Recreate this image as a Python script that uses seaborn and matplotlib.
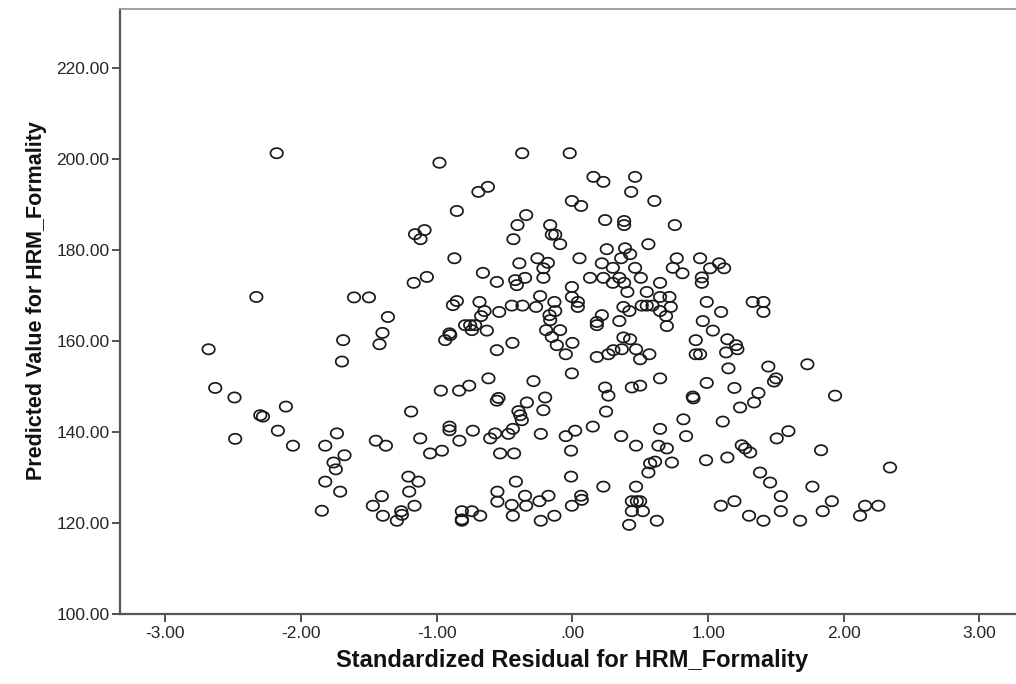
import numpy as np
import matplotlib
matplotlib.use("Agg")
import matplotlib.pyplot as plt
import seaborn as sns
import pandas as pd

# Standardized residuals (x) and predicted values (y) for HRM_Formality
std_residual = [
    -2.18, -1.16, -1.09, -1.12, -1.17, -2.33, -1.61, -1.50, -1.36, -1.40,
    -0.98, -0.37, -0.02, 0.155, 0.228, 0.462, 0.433, -0.693, -0.623, -0.004,
    0.064, 0.604, -0.852, -0.341, -0.405, 0.241, 0.381, 0.381, -0.164, -0.152,
    -0.127, -0.091, -0.435, 0.560, 0.253, 0.388, 0.425, 0.359, -0.870, 0.052,
    -0.258, -0.181, -0.214, -0.391, 0.217, 0.298, 0.462, -1.073, -0.660, -0.557,
    -0.422, -0.410, -0.349, -0.214, 0.130, 0.228, 0.298, 0.346, 0.381, 0.504,
    -0.004, -0.004, 0.040, 0.040, 0.405, 0.548, -0.238, -0.133, -0.881, -0.852,
    -0.685, -0.648, -0.673, -0.540, -0.447, -0.368, -0.268, -0.127, -0.169, -0.164,
    0.217, 0.180, 0.180, 0.346, 0.376, 0.420, 0.511, 0.548, 0.590, -0.791,
    -0.754, -0.717, -0.741, -0.631, -0.906, -0.194, -0.091,
    -0.938, -0.901, -0.152, -0.115, -0.557, -0.442, 0.000, -0.049, 0.180, 0.265,
    0.302, 0.364, 0.376, 0.425, 0.469, 0.499, 0.567, -0.004, -0.619, -0.287,
    -0.970, -0.835, -0.761, -0.545, -0.557, -0.336, -0.201, -0.214, -0.398, -0.385,
    -0.373, 0.241, 0.265, 0.248, 0.438, 0.499, -0.906, -0.906, -0.734, -0.833,
    -0.606, -0.570, -0.472, -0.439, -0.233, -0.049, 0.020, 0.150, 0.359, 0.469,
    -1.049, -0.962, -0.533, -0.430, -0.010, 0.573, 0.609, 0.560, -0.417, -0.010,
    0.228, 0.469, -0.553, -0.553, -0.349, -0.341, -0.447, -0.439, -0.243, -0.177,
    0.064, 0.069, -0.004, -0.133, -0.233, -0.815, -0.741, -0.815, -0.815, -0.680,
    0.438, 0.475, 0.499, 0.438, 0.519, 0.418,
    -1.690, -1.422, -2.682, -1.699, -2.633, -2.491, -2.301, -2.281, -2.112, -2.171,
    -2.486, -2.060, -1.736, -1.822, -1.680, -1.761, -1.744, -1.822, -1.712, -1.847,
    -1.189, -1.449, -1.375, -1.122, -1.209, -1.135, -1.203, -1.405, -1.471, -1.164,
    -1.397, -1.262, -1.257, -1.294,
    0.755, 0.769, 0.941, 0.740, 0.811, 1.015, 1.081, 1.118, 0.954, 0.954,
    0.646, 0.646, 0.715, 0.725, 0.646, 0.690, 0.696, 0.990, 1.096, 0.961,
    1.035, 1.329, 1.408, 1.408,
    0.909, 1.142, 1.206, 1.216, 0.909, 0.941, 1.133, 1.150, 0.646, 0.990,
    0.887, 0.892, 1.194, 1.236, 1.339, 1.371, 1.444, 1.486, 1.501, 1.732,
    1.936, 0.818, 1.108, 0.646, 0.838, 0.634, 0.696, 1.248, 1.273, 1.310,
    1.506, 1.592, 1.833, 0.733, 0.985, 1.142, 1.383, 1.457, 1.536, 1.536,
    1.769, 1.912, 1.845, 2.341, 1.094, 1.194, 1.302, 1.408, 1.678, 2.120,
    2.157, 2.255, 0.622,
]

predicted_value = [
    201.3, 183.5, 184.4, 182.4, 172.8, 169.7, 169.6, 169.6, 165.3, 161.8,
    199.2, 201.3, 201.3, 196.1, 195.0, 196.1, 192.8, 192.8, 193.9, 190.8,
    189.7, 190.8, 188.6, 187.7, 185.5, 186.6, 186.4, 185.5, 185.5, 183.4,
    183.4, 181.3, 182.4, 181.3, 180.2, 180.4, 179.1, 178.2, 178.2, 178.2,
    178.2, 177.2, 176.0, 177.1, 177.1, 176.1, 176.1, 174.1, 175.0, 173.0,
    173.4, 172.3, 173.9, 173.9, 173.9, 173.9, 172.8, 173.9, 172.8, 173.9,
    171.9, 169.7, 168.6, 167.5, 170.8, 170.8, 169.9, 168.6, 167.9, 168.8,
    168.6, 166.6, 165.5, 166.4, 167.8, 167.8, 167.5, 166.6, 165.7, 164.6,
    165.7, 164.2, 163.5, 164.4, 167.5, 166.6, 167.8, 167.8, 167.8, 163.5,
    163.5, 163.5, 162.4, 162.3, 161.7, 162.4, 162.4,
    160.2, 161.3, 160.9, 159.1, 158.0, 159.6, 159.6, 157.1, 156.5, 157.1,
    158.0, 158.2, 160.8, 160.4, 158.2, 156.0, 157.1, 152.9, 151.8, 151.2,
    149.1, 149.1, 150.2, 147.5, 146.9, 146.5, 147.6, 144.8, 144.6, 143.7,
    142.6, 149.8, 148.0, 144.5, 149.8, 150.2, 141.2, 140.4, 140.3, 138.1,
    138.6, 139.7, 139.6, 140.7, 139.6, 139.1, 140.3, 141.2, 139.1, 137.0,
    135.3, 135.9, 135.3, 135.3, 135.9, 133.1, 133.5, 131.1, 129.1, 130.2,
    128.0, 128.0, 126.9, 124.7, 126.0, 123.8, 124.0, 121.6, 124.8, 126.0,
    126.0, 125.1, 123.8, 121.6, 120.5, 122.6, 122.6, 120.5, 120.8, 121.6,
    124.8, 124.8, 124.8, 122.6, 122.6, 119.6,
    160.2, 159.3, 158.2, 155.5, 149.7, 147.6, 143.7, 143.4, 145.6, 140.3,
    138.5, 137.0, 139.7, 137.0, 134.9, 133.3, 131.8, 129.1, 126.9, 122.7,
    144.5, 138.1, 137.0, 138.6, 130.2, 129.1, 126.9, 125.9, 123.8, 123.8,
    121.6, 122.6, 121.8, 120.5,
    185.5, 178.2, 178.2, 176.1, 174.9, 176.0, 177.1, 176.0, 174.0, 172.8,
    172.8, 169.7, 169.7, 167.5, 166.6, 165.5, 163.3, 168.6, 166.4, 164.4,
    162.3, 168.6, 168.6, 166.4,
    160.2, 160.4, 159.1, 158.2, 157.1, 157.1, 157.5, 154.0, 151.8, 150.8,
    147.8, 147.4, 149.7, 145.4, 146.5, 148.6, 154.4, 151.1, 151.8, 154.9,
    148.0, 142.8, 142.3, 140.7, 139.1, 137.0, 136.4, 137.1, 136.4, 135.5,
    138.6, 140.2, 136.0, 133.3, 133.8, 134.4, 131.1, 128.9, 125.9, 122.6,
    128.0, 124.8, 122.6, 132.2, 123.8, 124.8, 121.6, 120.5, 120.5, 121.6,
    123.8, 123.8, 120.5,
]

x_ticks = [-3, -2, -1, 0, 1, 2, 3]
y_ticks = [100, 120, 140, 160, 180, 200, 220]
x_label = "Standardized Residual for HRM_Formality"
y_label = "Predicted Value for HRM_Formality"

df = pd.DataFrame({"resid": std_residual, "pred": predicted_value})

sns.set_theme(style="white")
plt.rcParams["font.family"] = ["Liberation Sans", "DejaVu Sans"]

fig = plt.figure(figsize=(10.16, 6.84), dpi=100)
W, H = 1016.0, 684.0
ax = fig.add_axes([120 / W, 70 / H, (1025 - 120) / W, (614 - 9) / H])

# slightly flattened open ring marker
t = np.linspace(0, 2 * np.pi, 60)
ring = list(zip(np.cos(t), 0.82 * np.sin(t)))

sns.scatterplot(
    data=df, x="resid", y="pred", ax=ax,
    marker=ring, s=80, facecolor="none", edgecolor="#1a1a1a",
    linewidth=1.25, legend=False,
)

ax.set_xlim(-3.335, 3.336)
ax.set_ylim(100, 233.0)

def fmt(v):
    s = "%.2f" % v
    return s[1:] if s.startswith("0") else s

ax.set_xticks(x_ticks)
ax.set_xticklabels([fmt(v) for v in x_ticks])
ax.set_yticks(y_ticks)
ax.set_yticklabels([fmt(v) for v in y_ticks])

ax.tick_params(axis="both", which="major", direction="out", length=5.5,
               width=1.3, color="#444444", labelsize=12.5, labelcolor="#262626",
               pad=2)
ax.tick_params(axis="x", bottom=True, top=False, pad=3)
ax.tick_params(axis="y", left=True, right=False)

for side in ("left", "bottom"):
    ax.spines[side].set_color("#555555")
    ax.spines[side].set_linewidth(1.6)
ax.spines["top"].set_color("#9a9a9a")
ax.spines["top"].set_linewidth(1.3)
ax.spines["right"].set_visible(False)

ax.set_xlabel(x_label, fontsize=17, fontweight="bold", color="#111111")
ax.set_ylabel(y_label, fontsize=15.5, fontweight="bold", color="#111111")
ax.xaxis.set_label_coords((572 - 120) / (1025 - 120), -(661 - 614) / 605)
ax.yaxis.set_label_coords(-(120 - 37) / (1025 - 120), (614 - 301) / 605)
ax.xaxis.label.set_verticalalignment("center")
ax.yaxis.label.set_verticalalignment("center")
ax.grid(False)

fig.savefig("out.png", dpi=100)
